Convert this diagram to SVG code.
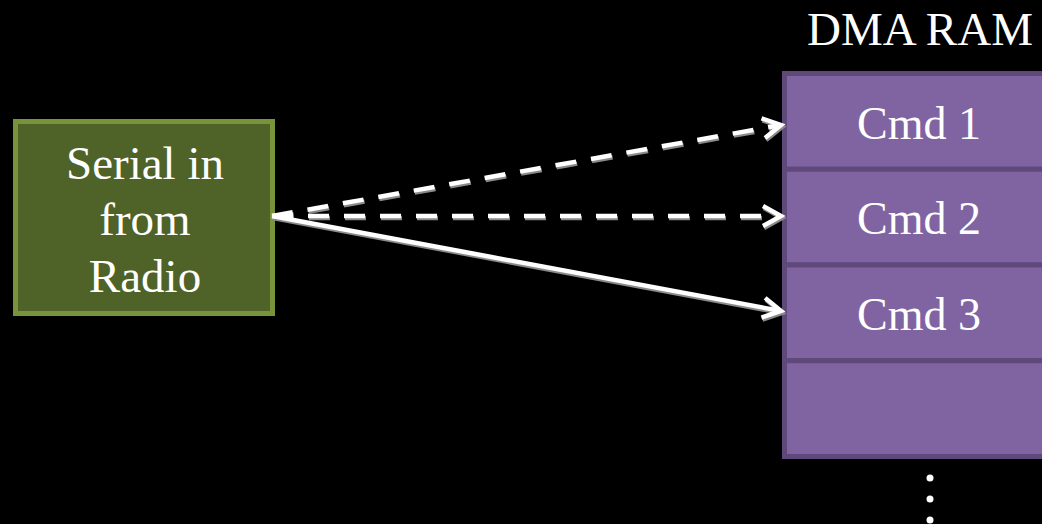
<svg xmlns="http://www.w3.org/2000/svg" width="1042" height="524" viewBox="0 0 1042 524">
<style>
.t{font-family:"Liberation Serif","Times New Roman",serif;fill:#fff;text-anchor:middle}
.row{fill:#8064A2;stroke:#5F497A;stroke-width:5}
.ln{fill:none;stroke:#fff;stroke-width:4.5}
.sh{fill:none;stroke:#8a8a8a;stroke-width:4.5}
.d{stroke-dasharray:21 15}
</style>
<defs>
<marker id="ah" markerUnits="userSpaceOnUse" markerWidth="30" markerHeight="30" refX="0" refY="0" viewBox="-22 -15 30 30" orient="auto" overflow="visible">
<path d="M-18,-10 L0,0 L-18,10" fill="none" stroke="#fff" stroke-width="4.5"/>
</marker>
<marker id="ahs" markerUnits="userSpaceOnUse" markerWidth="30" markerHeight="30" refX="0" refY="0" viewBox="-22 -15 30 30" orient="auto" overflow="visible">
<path d="M-18,-10 L0,0 L-18,10" fill="none" stroke="#8a8a8a" stroke-width="4.5"/>
</marker>
</defs>
<rect width="1042" height="524" fill="#000"/>
<g id="serial">
<rect x="15.5" y="121.5" width="257" height="192" fill="#4F6228" stroke="#77933C" stroke-width="5"/>
<text class="t" x="145" y="179" font-size="47">Serial in</text>
<text class="t" x="145" y="235" font-size="47">from</text>
<text class="t" x="145" y="292" font-size="47">Radio</text>
</g>
<g id="dmaram">
<text class="t" x="920" y="45" font-size="47">DMA RAM</text>
<rect class="row" x="784.5" y="73.5" width="300" height="95.75"/>
<rect class="row" x="784.5" y="169.25" width="300" height="95.75"/>
<rect class="row" x="784.5" y="265" width="300" height="95.75"/>
<rect class="row" x="784.5" y="360.75" width="300" height="95.75"/>
<text class="t" x="919" y="139" font-size="46">Cmd 1</text>
<text class="t" x="919" y="234" font-size="46">Cmd 2</text>
<text class="t" x="919" y="330" font-size="46">Cmd 3</text>
</g>
<g id="dots" fill="#fff">
<circle cx="930" cy="478" r="3.5"/>
<circle cx="930" cy="499" r="3.5"/>
<circle cx="930" cy="520" r="3.5"/>
</g>
<g id="connectors">
<g transform="translate(1,2)">
<path class="sh d" d="M272,216 L781,125" marker-end="url(#ahs)"/>
<path class="sh d" d="M272,216 L781,216" marker-end="url(#ahs)"/>
<path class="sh" d="M272,216 L781,311" marker-end="url(#ahs)"/>
</g>
<path class="ln d" d="M272,216 L781,125" marker-end="url(#ah)"/>
<path class="ln d" d="M272,216 L781,216" marker-end="url(#ah)"/>
<path class="ln" d="M272,216 L781,311" marker-end="url(#ah)"/>
</g>
</svg>
